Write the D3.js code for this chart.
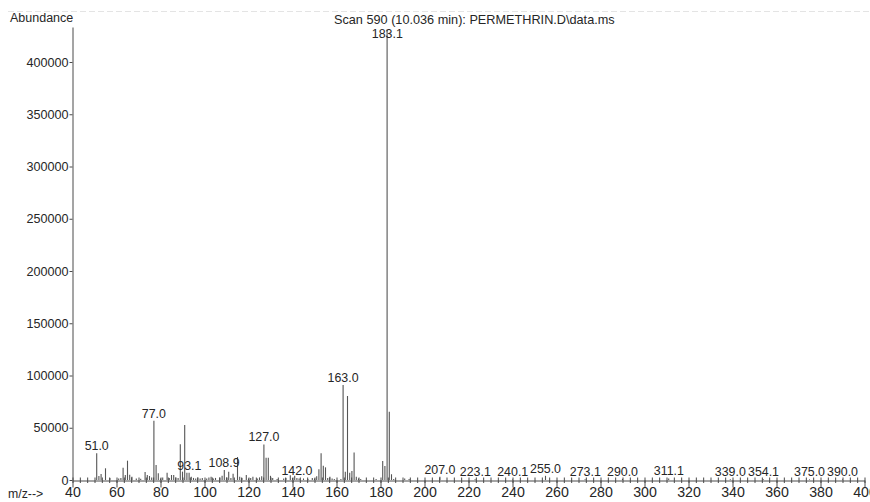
<!DOCTYPE html>
<html><head><meta charset="utf-8">
<script src="https://cdn.jsdelivr.net/npm/d3@7/dist/d3.min.js"></script>
<style>
body{margin:0;background:#fff}
svg{display:block;background:#fff}
text{font-family:"Liberation Sans",Arial,Helvetica,sans-serif;fill:#262626}
</style>
</head><body>
<svg id="chart" width="870" height="502"></svg>
<script>
// ---- data ----
const mzValues = [51,52,53,55,57,61,62,63,64,65,66,67,69,71,73,74,75,76,77,78,79,80,81,83,84,85,86,87,88,89,90,91,92,93,94,95,96,97,98,99,101,102,103,104,105,107,108,109,110,111,112,113,115,116,117,119,120,121,122,124,125,126,127,128,129,130,131,133,136,137,139,140,141,142,143,145,147,149,150,151,152,153,154,155,156,157,158,159,162,163,164,165,166,167,168,169,170,171,178,181,182,183,184,185,186,191,193,207,223,240,255,273,290,311,339,354,375,390];
const abundanceValues = [25500,3800,5700,11200,1900,1500,2000,11800,4800,18500,5000,3000,1500,1200,7600,4800,3800,2500,56700,14400,6400,1500,2500,7000,2000,4800,4800,2500,2000,34100,8000,52600,7000,7000,3000,2000,1500,2500,1500,2000,1500,2500,3000,1500,2000,2500,4000,9500,2500,8000,2000,6000,22000,3000,2000,4800,1500,2000,3000,1500,2500,3500,34000,21400,21400,4000,2000,1000,1500,2000,4500,2000,4000,2000,1500,1500,1000,2000,1500,3500,10200,25500,13700,12100,2000,3000,1500,1000,1000,90900,8000,80400,7000,8600,26200,3000,1500,1000,1000,18200,13400,431000,65400,5500,1000,1500,1000,3000,800,500,4000,600,1000,1500,600,600,600,600];
const peakLabels = ["51.0","77.0","93.1","108.9","127.0","142.0","163.0","183.1","207.0","223.1","240.1","255.0","273.1","290.0","311.1","339.0","354.1","375.0","390.0"];
const xTickValues = [40,60,80,100,120,140,160,180,200,220,240,260,280,300,320,340,360,380,400];
const yTickValues = [0,50000,100000,150000,200000,250000,300000,350000,400000];
const titleText = "Scan 590 (10.036 min): PERMETHRIN.D\\data.ms";
const yAxisTitle = "Abundance";
const xAxisTitle = "m/z-->";

// ---- drawing ----
const svg = d3.select("#chart");
const x = d3.scaleLinear().domain([40, 400]).range([72.5, 864.5]);
const y = d3.scaleLinear().domain([0, 433500]).range([480, 27]);
const ink = "#4a4a4a";

// faint scan border at top
svg.append("line").attr("x1", 8).attr("x2", 870).attr("y1", 11.5).attr("y2", 11.5)
  .attr("stroke", "#e4e4e4").attr("stroke-width", 1).attr("stroke-dasharray", "6,3");

// peaks
svg.append("g").selectAll("line").data(mzValues).join("line")
  .attr("x1", d => x(d)).attr("x2", d => x(d))
  .attr("y1", y(0)).attr("y2", (d, i) => y(abundanceValues[i]))
  .attr("stroke", "#555").attr("stroke-width", 1.1);

// y axis
const yAx = svg.append("g").attr("transform", "translate(72.5,0)")
  .call(d3.axisLeft(y).tickValues(yTickValues).tickSize(3).tickSizeOuter(0).tickPadding(1).tickFormat(d3.format("d")));
yAx.select(".domain").attr("stroke", ink);
yAx.selectAll(".tick line").attr("stroke", ink);
yAx.selectAll("text").attr("font-size", "12.6px").attr("fill", "#262626");

// minor x ticks
const minor = d3.range(0, 109).map(i => 40 + i * 20 / 6).filter(v => v <= 400.001);
const mAx = svg.append("g").attr("transform", "translate(0,477.5)")
  .call(d3.axisBottom(x).tickValues(minor).tickSize(5.5).tickFormat(""));
mAx.select(".domain").remove();
mAx.selectAll(".tick line").attr("stroke", ink);

// major x axis
const xAx = svg.append("g").attr("transform", "translate(0,480.5)")
  .call(d3.axisBottom(x).tickValues(xTickValues).tickSize(7).tickSizeOuter(0).tickPadding(-0.5).tickFormat(d3.format("d")));
xAx.select(".domain").attr("stroke", ink);
xAx.selectAll(".tick line").attr("stroke", ink);
xAx.selectAll("text").attr("font-size", "14.2px").attr("fill", "#262626");

// peak labels
svg.append("g").selectAll("text").data(peakLabels).join("text")
  .attr("x", d => x(+d))
  .attr("y", d => {
    const i = mzValues.indexOf(Math.round(+d));
    return Math.max(y(abundanceValues[i]) - 3, 38.3);
  })
  .attr("text-anchor", "middle").attr("font-size", "12.4px")
  .text(d => d);

// titles
svg.append("text").attr("x", 10).attr("y", 22).attr("font-size", "12.5px").text(yAxisTitle);
svg.append("text").attr("x", 8).attr("y", 497.5).attr("font-size", "12.3px").text(xAxisTitle);
svg.append("text").attr("x", 334).attr("y", 24).attr("font-size", "12.7px").text(titleText);
</script>
</body></html>
